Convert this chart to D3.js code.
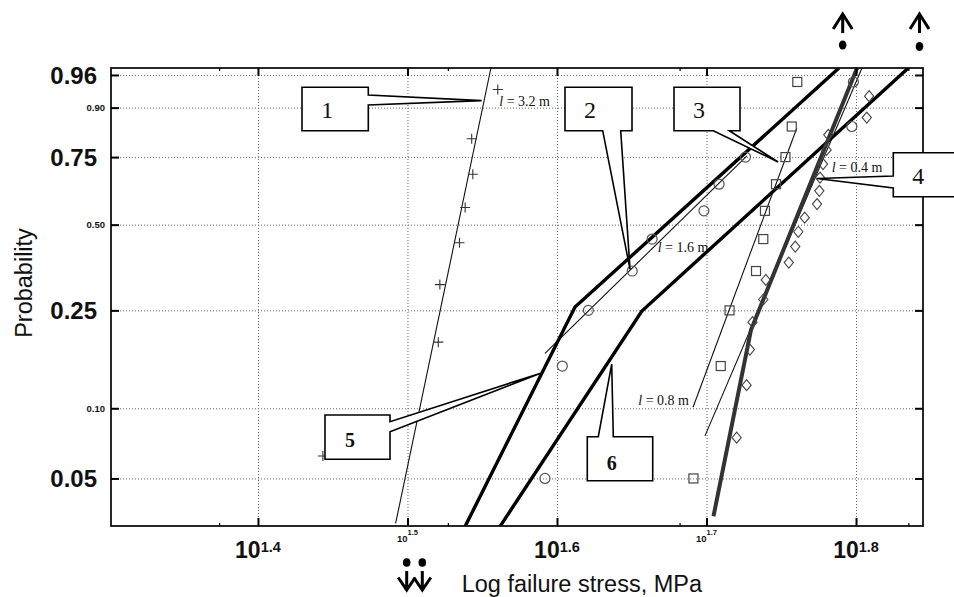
<!DOCTYPE html>
<html>
<head>
<meta charset="utf-8">
<script src="https://cdn.jsdelivr.net/npm/d3@7"></script>
<style>
  html, body { margin: 0; padding: 0; background: #fff; }
  svg { display: block; }
</style>
</head>
<body>
<svg id="chart" width="954" height="597"></svg>
<script>
// Weibull probability plot: log failure stress (x) against ln(-ln(1-P)) (y)

// ---- axis ticks ----
const yTickValues = [0.05, 0.10, 0.25, 0.50, 0.75, 0.90, 0.96];
const yTickLabels = ["0.05", "0.10", "0.25", "0.50", "0.75", "0.90", "0.96"];
const yMajorTicks = [0.05, 0.25, 0.75, 0.96];
const xTickExponents = [1.4, 1.5, 1.6, 1.7, 1.8];
const xTickLabels = ["1.4", "1.5", "1.6", "1.7", "1.8"];
const xMajorExponents = [1.4, 1.6, 1.8];
const xMinorExponents = [1.374, 1.527, 1.682, 1.835];

// ---- measured failure stresses (MPa) and plotting positions ----
// l = 3.2 m (crosses)
const stress32 = [27.76, 33.16, 33.24, 34.26, 34.56, 34.97, 34.91, 36.34];
const prob32 = [0.0625, 0.1875, 0.3125, 0.4375, 0.5625, 0.6875, 0.8125, 0.9375];
// l = 1.6 m (circles)
const stress16 = [39.08, 40.14, 41.78, 44.70, 46.09, 49.92, 51.10, 53.22, 62.69, 62.84];
const prob16 = [0.05, 0.15, 0.25, 0.35, 0.45, 0.55, 0.65, 0.75, 0.85, 0.95];
// l = 0.8 m (squares)
const stress08 = [49.12, 51.23, 51.93, 54.09, 54.70, 54.84, 55.78, 56.60, 57.15, 57.64];
const prob08 = [0.05, 0.15, 0.25, 0.35, 0.45, 0.55, 0.65, 0.75, 0.85, 0.95];
// l = 0.4 m (diamonds)
const stress04 = [52.50, 53.31, 53.58, 53.80, 54.70, 54.91, 56.89, 57.46, 57.73,
                  58.30, 59.42, 59.63, 59.69, 59.97, 60.30, 60.46, 64.15, 64.38];
const prob04 = [0.075, 0.125, 0.175, 0.225, 0.275, 0.325, 0.375, 0.425, 0.475,
                0.525, 0.575, 0.625, 0.675, 0.725, 0.775, 0.825, 0.875, 0.925];

// ---- Weibull fits to each data set (thin lines) ----
const fitStress32 = [31.05, 35.96];
const fitProb32 = [0.0318, 0.9685];
const fitStress16 = [39.08, 53.34];
const fitProb16 = [0.169, 0.754];
const fitStress08 = [49.09, 57.59];
const fitProb08 = [0.101, 0.845];
const fitStress04 = [50.00, 63.68];
const fitProb04 = [0.0763, 0.9685];

// ---- model predictions (thick lines) ----
const modelStress5 = [34.56, 40.93, 61.46];
const modelProb5 = [0.0309, 0.2574, 0.9685];
const modelStress6 = [36.47, 45.37, 68.39];
const modelProb6 = [0.0309, 0.2484, 0.9685];
const modelStressShort = [50.66, 53.67, 63.20];
const modelProbShort = [0.0342, 0.2094, 0.9685];

// ---- curve labels ----
const curveLabels = ["3.2", "1.6", "0.8", "0.4"];

// ---- numbered callouts: label and the point each one indicates ----
const calloutLabels = ["1", "2", "3", "4", "5", "6"];
const calloutStress = [35.45, 44.55, 55.96, 59.40, 38.78, 43.31];
const calloutProb = [0.9157, 0.355, 0.7324, 0.6714, 0.1399, 0.1528];

// ================= drawing =================
const svg = d3.select("#chart");
const plotL = 111, plotR = 923, plotT = 68, plotB = 526;

const weib = p => Math.log(-Math.log(1 - p));
const x = d3.scaleLog()
  .domain([Math.pow(10, 1.3017), Math.pow(10, 1.8448)])
  .range([plotL, plotR]);
const y = d3.scaleLinear()
  .domain([weib(0.031), weib(0.9685)])
  .range([plotB, plotT]);
const py = p => y(weib(p));

svg.append("defs").append("clipPath").attr("id", "plotClip")
  .append("rect").attr("x", plotL).attr("y", plotT)
  .attr("width", plotR - plotL).attr("height", plotB - plotT);

// dotted grid
const gridX = svg.append("g")
  .attr("transform", `translate(0,${plotB})`)
  .call(d3.axisBottom(x)
    .tickValues(xTickExponents.map(e => Math.pow(10, e)))
    .tickSize(-(plotB - plotT)).tickFormat(""));
const gridY = svg.append("g")
  .attr("transform", `translate(${plotL},0)`)
  .call(d3.axisLeft(y)
    .tickValues(yTickValues.map(weib))
    .tickSize(-(plotR - plotL)).tickFormat(""));
[gridX, gridY].forEach(g => {
  g.select(".domain").remove();
  g.selectAll(".tick line")
    .attr("stroke", "#666").attr("stroke-width", 1)
    .attr("stroke-dasharray", "1,2");
});

const plot = svg.append("g").attr("clip-path", "url(#plotClip)");
const line = d3.line().x(d => x(d[0])).y(d => py(d[1]));

// thin fitted lines
[[fitStress32, fitProb32], [fitStress16, fitProb16],
 [fitStress08, fitProb08], [fitStress04, fitProb04]].forEach(([s, p]) => {
  plot.append("path").datum(d3.zip(s, p)).attr("d", line)
    .attr("fill", "none").attr("stroke", "#111").attr("stroke-width", 1.1);
});

// markers
const mk = svg.append("g");
mk.selectAll("path.cross").data(d3.zip(stress32, prob32)).join("path")
  .attr("class", "cross")
  .attr("transform", d => `translate(${x(d[0])},${py(d[1])})`)
  .attr("d", "M-5,0H5M0,-5V5")
  .attr("stroke", "#333").attr("stroke-width", 1.1).attr("fill", "none");
mk.selectAll("circle").data(d3.zip(stress16, prob16)).join("circle")
  .attr("cx", d => x(d[0])).attr("cy", d => py(d[1])).attr("r", 5)
  .attr("fill", "none").attr("stroke", "#555").attr("stroke-width", 1.2);
mk.selectAll("rect.sq").data(d3.zip(stress08, prob08)).join("rect")
  .attr("class", "sq")
  .attr("x", d => x(d[0]) - 4.5).attr("y", d => py(d[1]) - 4.5)
  .attr("width", 9).attr("height", 9)
  .attr("fill", "none").attr("stroke", "#444").attr("stroke-width", 1.2);
mk.selectAll("path.dia").data(d3.zip(stress04, prob04)).join("path")
  .attr("class", "dia")
  .attr("transform", d => `translate(${x(d[0])},${py(d[1])})`)
  .attr("d", "M0,-5.5L4.6,0L0,5.5L-4.6,0Z")
  .attr("fill", "none").attr("stroke", "#444").attr("stroke-width", 1.1);

// thick model lines
plot.append("path").datum(d3.zip(modelStress5, modelProb5)).attr("d", line)
  .attr("fill", "none").attr("stroke", "#000").attr("stroke-width", 3.4)
  .attr("stroke-linejoin", "miter");
plot.append("path").datum(d3.zip(modelStress6, modelProb6)).attr("d", line)
  .attr("fill", "none").attr("stroke", "#000").attr("stroke-width", 3.4)
  .attr("stroke-linejoin", "miter");
plot.append("path").datum(d3.zip(modelStressShort, modelProbShort)).attr("d", line)
  .attr("fill", "none").attr("stroke", "#333").attr("stroke-width", 4)
  .attr("stroke-linejoin", "round");

// frame
svg.append("rect").attr("x", plotL).attr("y", plotT)
  .attr("width", plotR - plotL).attr("height", plotB - plotT)
  .attr("fill", "none").attr("stroke", "#111").attr("stroke-width", 1.8);

// inward tick marks on all four sides
const yT = yTickValues.map(weib);
const xT = xTickExponents.map(e => Math.pow(10, e));
const xM = xMinorExponents.map(e => Math.pow(10, e));
function tickAxis(axis, tr) {
  const g = svg.append("g").attr("transform", tr).call(axis);
  g.select(".domain").remove();
  g.selectAll(".tick line").attr("stroke", "#000").attr("stroke-width", 2);
  g.selectAll(".tick text").remove();
  return g;
}
tickAxis(d3.axisLeft(y).tickValues(yT).tickSizeInner(-8).tickSizeOuter(0), `translate(${plotL},0)`);
tickAxis(d3.axisRight(y).tickValues(yT).tickSizeInner(-8).tickSizeOuter(0), `translate(${plotR},0)`);
tickAxis(d3.axisBottom(x).tickValues(xT).tickSizeInner(-8).tickSizeOuter(0), `translate(0,${plotB})`);
tickAxis(d3.axisTop(x).tickValues(xT).tickSizeInner(-8).tickSizeOuter(0), `translate(0,${plotT})`);
tickAxis(d3.axisBottom(x).tickValues(xM).tickSizeInner(-3).tickSizeOuter(0), `translate(0,${plotB})`)
  .selectAll(".tick line").attr("stroke-width", 1.2);
tickAxis(d3.axisTop(x).tickValues(xM).tickSizeInner(-3).tickSizeOuter(0), `translate(0,${plotT})`)
  .selectAll(".tick line").attr("stroke-width", 1.2);

// y tick labels
const sans = "'Liberation Sans', Arial, Helvetica, sans-serif";
const serif = "'Liberation Serif', 'Times New Roman', serif";
svg.append("g").selectAll("text").data(yTickValues).join("text")
  .attr("x", d => yMajorTicks.includes(d) ? 97 : 105)
  .attr("y", d => py(d))
  .attr("dy", "0.36em")
  .attr("text-anchor", "end")
  .attr("font-family", sans).attr("font-weight", "bold")
  .attr("font-size", d => yMajorTicks.includes(d) ? 24 : 9.5)
  .attr("fill", "#111")
  .text((d, i) => yTickLabels[i]);

// x tick labels as powers of ten
const xl = svg.append("g").selectAll("text").data(xTickExponents).join("text")
  .attr("x", e => x(Math.pow(10, e)))
  .attr("y", e => xMajorExponents.includes(e) ? 558.3 : 541.7)
  .attr("text-anchor", "middle")
  .attr("font-family", sans).attr("font-weight", "bold").attr("fill", "#111")
  .attr("font-size", e => xMajorExponents.includes(e) ? 23 : 9.5);
xl.append("tspan").text("10");
xl.append("tspan")
  .attr("dy", e => xMajorExponents.includes(e) ? -6.6 : -6.5)
  .attr("font-size", e => xMajorExponents.includes(e) ? 14.5 : 7.5)
  .text((e, i) => xTickLabels[i]);

// axis titles
svg.append("text")
  .attr("transform", "translate(31.5,283) rotate(-90)")
  .attr("text-anchor", "middle")
  .attr("font-family", sans).attr("font-size", 23.5).attr("fill", "#111")
  .text("Probability");
svg.append("text")
  .attr("x", 461.7).attr("y", 591.5)
  .attr("font-family", sans).attr("font-size", 23.5).attr("fill", "#111")
  .text("Log failure stress, MPa");

// gauge-length labels on the curves
const curveLabelPos = [[499.3, 106], [657.7, 251.7], [638.3, 405], [831.7, 171.7]];
curveLabels.forEach((v, i) => {
  const t = svg.append("text")
    .attr("x", curveLabelPos[i][0]).attr("y", curveLabelPos[i][1])
    .attr("font-family", serif).attr("font-size", 14).attr("fill", "#111");
  t.append("tspan").attr("font-style", "italic").text("l");
  t.append("tspan").text(` = ${v} m`);
});

// numbered callouts with wedge pointers
const calloutBoxes = [
  {x: 302,   y: 87.3,  w: 66.3, h: 43.4, side: "right",  a: [95, 105],      lx: 327.3, ly: 118.3, bold: false},
  {x: 565,   y: 87.3,  w: 67,   h: 43.4, side: "bottom", a: [602.7, 620.7], lx: 590,   ly: 118.3, bold: false},
  {x: 674,   y: 87.3,  w: 66,   h: 43.4, side: "bottom", a: [713.3, 729.3], lx: 699,   ly: 118.3, bold: false},
  {x: 893.3, y: 152.7, w: 75,   h: 44,   side: "left",   a: [176, 188],     lx: 918.3, ly: 184,   bold: false},
  {x: 325,   y: 415,   w: 65,   h: 44.3, side: "right",  a: [421.7, 431.7], lx: 350,   ly: 446.7, bold: true},
  {x: 587.3, y: 436.7, w: 65.4, h: 44,   side: "top",    a: [598.3, 613.3], lx: 611.7, ly: 470,   bold: true}
];
function calloutPath(b, tip) {
  const [a1, a2] = b.a, x0 = b.x, y0 = b.y, x1 = b.x + b.w, y1 = b.y + b.h;
  const pts = [[x0, y0]];
  if (b.side === "top") pts.push([a1, y0], tip, [a2, y0]);
  pts.push([x1, y0]);
  if (b.side === "right") pts.push([x1, a1], tip, [x1, a2]);
  pts.push([x1, y1]);
  if (b.side === "bottom") pts.push([a2, y1], tip, [a1, y1]);
  pts.push([x0, y1]);
  if (b.side === "left") pts.push([x0, a2], tip, [x0, a1]);
  return "M" + pts.map(p => p.join(",")).join("L") + "Z";
}
const co = svg.append("g");
calloutLabels.forEach((lab, i) => {
  const b = calloutBoxes[i];
  const tip = [x(calloutStress[i]), py(calloutProb[i])];
  co.append("path").attr("d", calloutPath(b, tip))
    .attr("fill", "#fff").attr("stroke", "#000").attr("stroke-width", 1.6)
    .attr("stroke-linejoin", "miter");
  co.append("text").attr("x", b.lx).attr("y", b.ly)
    .attr("text-anchor", "middle")
    .attr("font-family", serif)
    .attr("font-weight", b.bold ? "bold" : "normal")
    .attr("font-size", b.bold ? 20 : 24).attr("fill", "#111")
    .text(lab);
});

// small arrow-and-dot marks above and below the frame
const marks = svg.append("g").attr("fill", "none").attr("stroke", "#000")
  .attr("stroke-width", 3).attr("stroke-linecap", "butt");
[[842.7, 45], [919.5, 46.5]].forEach(([cx, dy]) => {
  marks.append("path").attr("d", `M${cx},14V33M${cx - 9.5},29L${cx},14L${cx + 9.5},29`);
  marks.append("ellipse").attr("cx", cx).attr("cy", dy).attr("rx", 3.8).attr("ry", 4.5)
    .attr("fill", "#000").attr("stroke", "none");
});
[406.7, 422.3].forEach(cx => {
  marks.append("ellipse").attr("cx", cx).attr("cy", 562.5).attr("rx", 3.8).attr("ry", 4.3)
    .attr("fill", "#000").attr("stroke", "none");
  marks.append("path").attr("d", `M${cx},571V590M${cx - 8.5},577.5L${cx},590L${cx + 8.5},577.5`);
});
</script>
</body>
</html>
